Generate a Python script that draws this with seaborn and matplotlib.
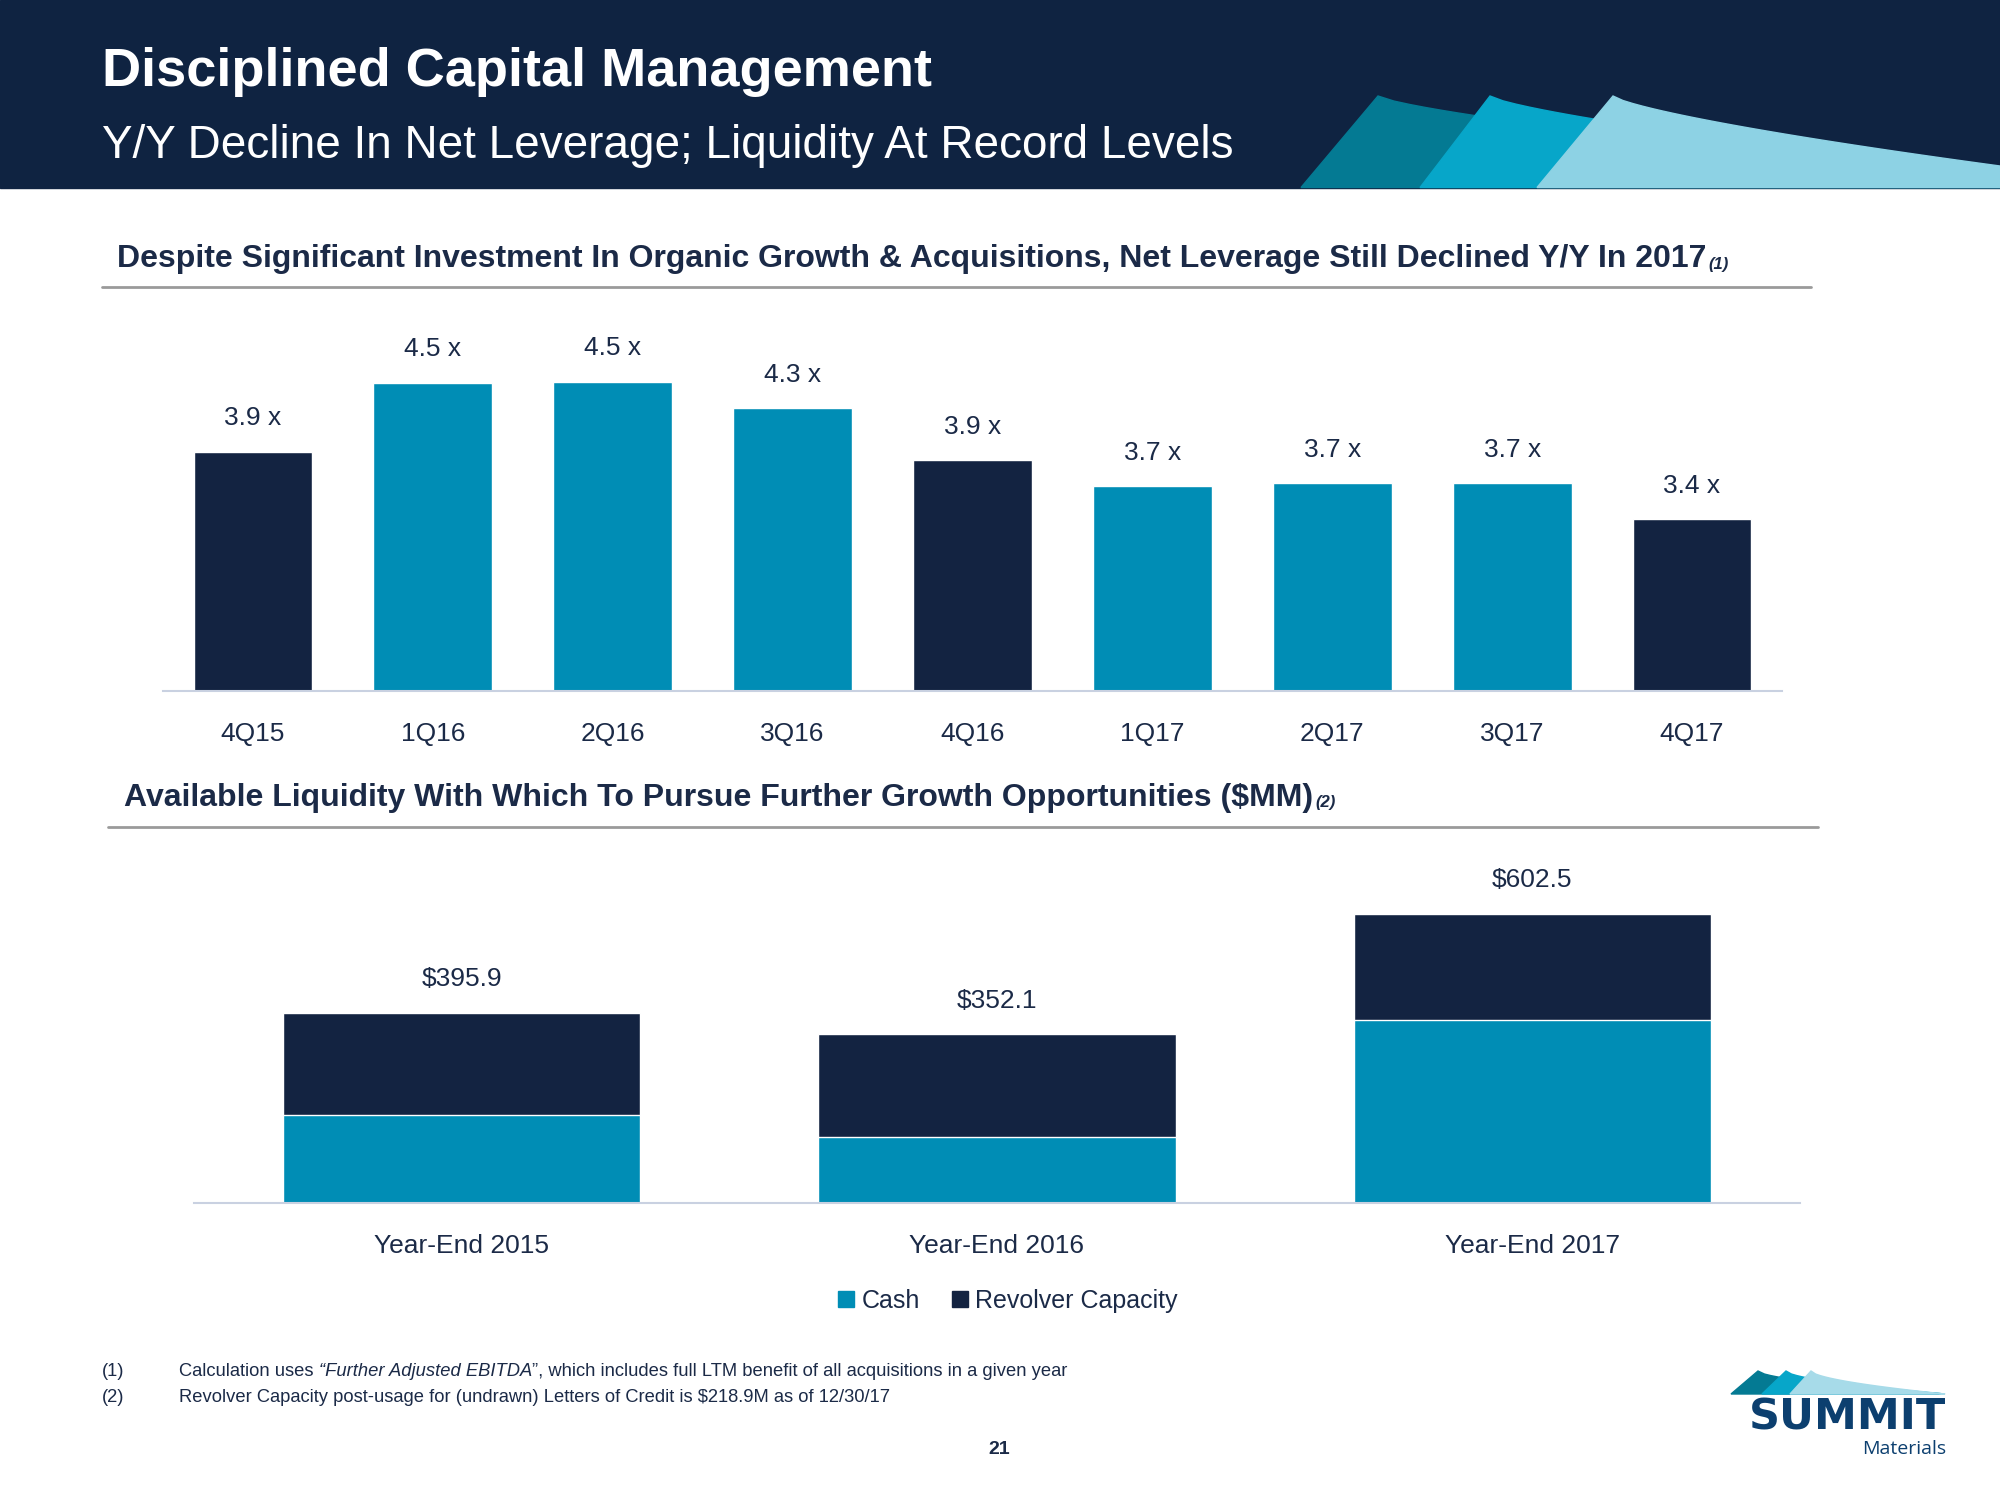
import numpy as np
import pandas as pd
import matplotlib
matplotlib.use('Agg')
import matplotlib.pyplot as plt
import seaborn as sns
from matplotlib import font_manager
from matplotlib.patches import Rectangle, Polygon
from matplotlib.lines import Line2D

# data
quarters = ['4Q15', '1Q16', '2Q16', '3Q16', '4Q16', '1Q17', '2Q17', '3Q17', '4Q17']
leverage = [3.93, 4.47, 4.48, 4.27, 3.86, 3.66, 3.68, 3.68, 3.40]
year_end = ['Year-End 2015', 'Year-End 2016', 'Year-End 2017']
cash = [183.9, 138.0, 381.9]
revolver = [212.0, 214.1, 220.6]

navy = '#132341'
teal = '#008db5'
txt = '#1b2a47'
hdr = '#0f2341'

sns.set_theme(style='white')
names = {f.name for f in font_manager.fontManager.ttflist}
narrow = 'Liberation Sans Narrow' if 'Liberation Sans Narrow' in names else 'Liberation Sans'
plt.rcParams['font.family'] = [narrow, 'DejaVu Sans']

fig = plt.figure(figsize=(20, 15), dpi=100)
W, H = 2000.0, 1500.0


def fx(x):
    return x / W


def fy(y):
    return 1 - y / H


fig.canvas.draw()
rend = fig.canvas.get_renderer()


def right_of(t):
    return t.get_window_extent(rend).x1 / W


# header band
fig.patches.append(Rectangle((0, fy(187.5)), 1, 187.5 / H, transform=fig.transFigure,
                             color=hdr, zorder=0))


def wave(x0, xp, color, ye=163):
    t = np.linspace(0, 1, 40)
    xs = xp + (W - xp) * t
    ys = 96 + (ye - 96) * t ** 0.75
    pts = [(fx(x0), fy(187.5)), (fx(xp), fy(96))]
    pts += [(fx(a), fy(b)) for a, b in zip(xs, ys)]
    pts += [(1, fy(187.5))]
    fig.patches.append(Polygon(pts, closed=True, transform=fig.transFigure,
                               color=color, zorder=1))


wave(1301, 1378, '#047a93', ye=175)
wave(1420, 1490, '#07a6c9', ye=172)
wave(1537, 1613, '#8dd2e4', ye=166)

fig.text(fx(102), fy(72), 'Disciplined Capital Management', color='white',
         fontsize=39, fontweight='bold', va='center', ha='left')
fig.text(fx(102), fy(146), 'Y/Y Decline In Net Leverage; Liquidity At Record Levels',
         color='white', fontsize=33, va='center', ha='left')

# section headers
h1 = fig.text(fx(117), fy(259), 'Despite Significant Investment In Organic Growth & Acquisitions, '
              'Net Leverage Still Declined Y/Y In 2017', color=txt, fontsize=23,
              fontweight='bold', va='center', ha='left')
fig.text(right_of(h1) + 0.001, fy(264), '(1)', color=txt, fontsize=12, fontweight='bold',
         fontstyle='italic', va='center', ha='left')
fig.add_artist(Line2D([fx(102), fx(1811)], [fy(287), fy(287)], color='#9a9a9a', lw=2))

h2 = fig.text(fx(124), fy(798), 'Available Liquidity With Which To Pursue Further Growth '
              'Opportunities ($MM)', color=txt, fontsize=23, fontweight='bold',
              va='center', ha='left')
fig.text(right_of(h2) + 0.001, fy(803), '(2)', color=txt, fontsize=12, fontweight='bold',
         fontstyle='italic', va='center', ha='left')
fig.add_artist(Line2D([fx(108), fx(1818)], [fy(827), fy(827)], color='#9a9a9a', lw=2))

# top chart: net leverage
ax1 = fig.add_axes([fx(163), fy(691), fx(1782 - 163), (691 - 300) / H])
df1 = pd.DataFrame({'q': quarters, 'v': leverage})
colors1 = [navy if q.startswith('4Q') else teal for q in quarters]
sns.barplot(data=df1, x='q', y='v', hue='q', palette=colors1, legend=False,
            width=0.66, saturation=1, ax=ax1)
ax1.set_ylim(2.05, 5.12)
ax1.set_xlim(-0.5, 8.5)
for i, v in enumerate(leverage):
    ax1.annotate(f'{v:.1f} x', (i, v), xytext=(0, 24), textcoords='offset points',
                 ha='center', va='center', fontsize=19, color=txt)
ax1.set_xlabel('')
ax1.set_ylabel('')
ax1.set_yticks([])
for s in ['top', 'right', 'left']:
    ax1.spines[s].set_visible(False)
ax1.spines['bottom'].set_color('#c9d1e1')
ax1.spines['bottom'].set_linewidth(1.5)
ax1.tick_params(axis='x', length=0, pad=22, labelsize=19, labelcolor=txt)

# bottom chart: liquidity
ax2 = fig.add_axes([fx(194), fy(1203), fx(1800 - 194), (1203 - 860) / H])
total = [c + r for c, r in zip(cash, revolver)]
df2 = pd.DataFrame({'y': year_end, 'total': total, 'cash': cash})
sns.barplot(data=df2, x='y', y='total', color=navy, width=0.667, saturation=1, ax=ax2)
sns.barplot(data=df2, x='y', y='cash', color=teal, width=0.667, saturation=1, ax=ax2)
ax2.set_ylim(0, 714)
ax2.set_xlim(-0.5, 2.5)
for i, t in enumerate(total):
    ax2.annotate(f'${t:.1f}', (i, t), xytext=(0, 24), textcoords='offset points',
                 ha='center', va='center', fontsize=19, color=txt)
ax2.set_xlabel('')
ax2.set_ylabel('')
ax2.set_yticks([])
for s in ['top', 'right', 'left']:
    ax2.spines[s].set_visible(False)
ax2.spines['bottom'].set_color('#c9d1e1')
ax2.spines['bottom'].set_linewidth(1.5)
ax2.tick_params(axis='x', length=0, pad=22, labelsize=19, labelcolor=txt)

handles = [Line2D([], [], marker='s', ls='', color=teal, markersize=11, label='Cash'),
           Line2D([], [], marker='s', ls='', color=navy, markersize=11, label='Revolver Capacity')]
leg = fig.legend(handles=handles, loc='center', bbox_to_anchor=(fx(1003), fy(1301)),
                 ncol=2, frameon=False, fontsize=18, handletextpad=-0.1,
                 columnspacing=0.9, handlelength=1.4)
for t in leg.get_texts():
    t.set_color(txt)

# footnotes
fs = 13.2
fig.text(fx(102), fy(1372), '(1)', fontsize=fs, color=txt, va='center')
a = fig.text(fx(179), fy(1372), 'Calculation uses ', fontsize=fs, color=txt, va='center')
b = fig.text(right_of(a), fy(1372), '\u201cFurther Adjusted EBITDA', fontsize=fs, color=txt,
             va='center', fontstyle='italic')
fig.text(right_of(b), fy(1372), '\u201d, which includes full LTM benefit of all acquisitions '
         'in a given year', fontsize=fs, color=txt, va='center')
fig.text(fx(102), fy(1398), '(2)', fontsize=fs, color=txt, va='center')
fig.text(fx(179), fy(1398), 'Revolver Capacity post-usage for (undrawn) Letters of Credit '
         'is $218.9M as of 12/30/17', fontsize=fs, color=txt, va='center')
fig.text(fx(999), fy(1450), '21', fontsize=14, fontweight='bold', color=txt,
         va='center', ha='center')

# logo
logo_blue = '#0c3f6f'


def logo_wave(x0, xp, color):
    t = np.linspace(0, 1, 30)
    xs = xp + (1945 - xp) * t
    ys = 1371 + (1394 - 1371) * t ** 0.6
    pts = [(fx(x0), fy(1394)), (fx(xp), fy(1371))]
    pts += [(fx(a), fy(b)) for a, b in zip(xs, ys)]
    fig.patches.append(Polygon(pts, closed=True, transform=fig.transFigure,
                               color=color, zorder=1))


logo_wave(1731, 1758, '#047a93')
logo_wave(1762, 1786, '#07a6c9')
logo_wave(1790, 1811, '#a7dbe9')
fig.text(fx(1946), fy(1418), 'SUMMIT', fontsize=31, fontweight='heavy', color=logo_blue,
         family='DejaVu Sans', ha='right', va='center')
fig.text(fx(1946), fy(1449), 'Materials', fontsize=14, color=logo_blue,
         family=['Open Sans', 'DejaVu Sans'], ha='right', va='center')

fig.savefig('out.png', dpi=100)
